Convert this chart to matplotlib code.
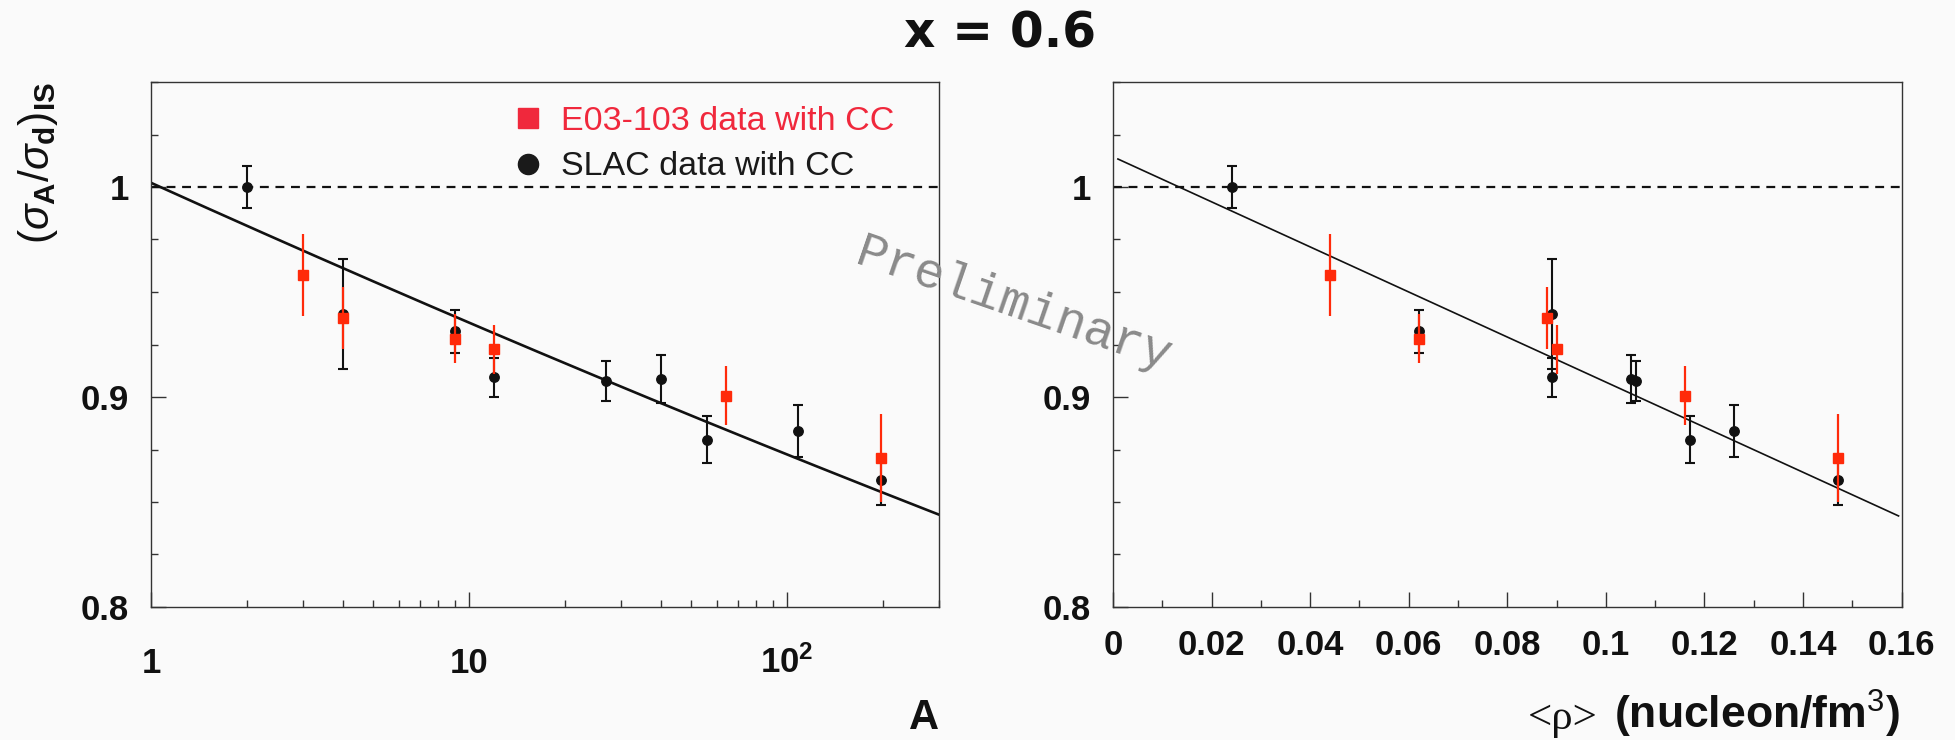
import matplotlib
matplotlib.use("Agg")
import matplotlib.pyplot as plt
import numpy as np
from matplotlib.ticker import LogLocator, MultipleLocator, NullFormatter
from matplotlib.lines import Line2D

# E03-103 data with CC (red squares)
e03_A = [3, 4, 9, 12, 64, 197]
e03_rho = [0.0441, 0.0881, 0.0621, 0.0900, 0.1161, 0.1471]
e03_ratio = [0.9579, 0.9377, 0.9278, 0.9228, 0.9007, 0.8709]
e03_err = [0.0195, 0.0147, 0.0115, 0.0117, 0.0142, 0.0210]

# SLAC data with CC (black circles)
slac_A = [2, 4, 9, 12, 27, 40, 56, 108, 197]
slac_rho = [0.0242, 0.0891, 0.0621, 0.0891, 0.1061, 0.1051, 0.1171, 0.1261, 0.1471]
slac_ratio = [1.0000, 0.9395, 0.9312, 0.9093, 0.9075, 0.9086, 0.8796, 0.8839, 0.8603]
slac_err = [0.0101, 0.0261, 0.0103, 0.0095, 0.0095, 0.0116, 0.0112, 0.0125, 0.0116]

# fits: polynomial in log10(A), and linear in density
fit_A_coef = [1.002, -0.0685, 0.0019]
fit_A_range = [1, 300]
fit_rho_coef = [1.0144, -1.073]
fit_rho_range = [0.001, 0.1594]

y_ticks = [0.8, 0.9, 1.0]
y_ticklabels = ["0.8", "0.9", "1"]
xA_ticks = [1, 10, 100]
xA_ticklabels = ["1", "10", r"10$^{\mathbf{2}}$"]
xrho_ticks = [0, 0.02, 0.04, 0.06, 0.08, 0.1, 0.12, 0.14, 0.16]
xrho_ticklabels = ["0", "0.02", "0.04", "0.06", "0.08", "0.1", "0.12", "0.14", "0.16"]
legend_labels = ["E03-103 data with CC", "SLAC data with CC"]

BG = "#fafafa"
RED = "#ff2a0a"
RED_LEG = "#f0283c"
BLK = "#111111"

plt.rcParams['font.family'] = 'Liberation Sans'
plt.rcParams['mathtext.fontset'] = 'custom'
plt.rcParams['mathtext.rm'] = 'Liberation Sans'
plt.rcParams['mathtext.bf'] = 'Liberation Sans:bold'
plt.rcParams['mathtext.it'] = 'Liberation Sans:italic'

W, H = 1955, 740
fig = plt.figure(figsize=(W / 100, H / 100), dpi=100, facecolor=BG)
ax1 = fig.add_axes([151 / W, 1 - 607 / H, 788 / W, 525 / H])
ax2 = fig.add_axes([1113 / W, 1 - 607 / H, 788.5 / W, 525 / H])


def style_axes(ax):
    ax.set_facecolor(BG)
    for sp in ax.spines.values():
        sp.set_linewidth(1.0)
        sp.set_color("#333333")
    ax.tick_params(which='both', direction='in', top=False, right=False,
                   width=1.0, color="#333333", labelcolor=BLK)
    ax.tick_params(which='major', length=10.5)
    ax.tick_params(which='minor', length=5.3)
    ax.tick_params(axis='y', pad=16)
    ax.set_ylim(0.8, 1.05)
    ax.set_yticks(y_ticks, y_ticklabels, fontsize=25, fontweight='bold')
    ax.yaxis.set_minor_locator(MultipleLocator(0.025))


def draw_points(ax, xs, xe):
    ax.errorbar(xs, slac_ratio, yerr=slac_err, fmt='o', color=BLK, ms=6.8,
                elinewidth=1.5, capsize=3.8, capthick=1.5, zorder=3)
    ax.errorbar(xe, e03_ratio, yerr=e03_err, fmt='s', color=RED, ms=7.5,
                elinewidth=1.6, capsize=0, zorder=4)
    ax.axhline(1.0, color=BLK, lw=1.6, ls=(0, (4, 3)), zorder=2)


# left panel: vs A
style_axes(ax1)
ax1.set_xscale('log')
ax1.set_xlim(1, 300)
ax1.set_xticks(xA_ticks, xA_ticklabels, fontsize=25, fontweight='bold', va='baseline')
ax1.xaxis.set_minor_locator(LogLocator(subs=np.arange(2, 10)))
ax1.xaxis.set_minor_formatter(NullFormatter())
ax1.tick_params(axis='x', pad=47.5)
draw_points(ax1, slac_A, e03_A)
aa = np.logspace(np.log10(fit_A_range[0]), np.log10(fit_A_range[1]), 200)
la = np.log10(aa)
ax1.plot(aa, fit_A_coef[0] + fit_A_coef[1] * la + fit_A_coef[2] * la ** 2,
         color=BLK, lw=1.9, zorder=2)

handles = [Line2D([], [], marker='s', color=RED_LEG, ls='none', markersize=14),
           Line2D([], [], marker='o', color="#1a1a1a", ls='none', markersize=14.5)]
ax1.legend(handles, legend_labels, loc='upper left', bbox_to_anchor=(0.458, 0.954),
           frameon=False, fontsize=24.5, handlelength=0.95, handletextpad=0.5,
           labelspacing=0.42, borderpad=0, borderaxespad=0,
           labelcolor=[RED_LEG, "#1a1a1a"])

# right panel: vs density
style_axes(ax2)
ax2.set_xlim(0, 0.16)
ax2.set_xticks(xrho_ticks, xrho_ticklabels, fontsize=25, fontweight='bold', va='baseline')
ax2.xaxis.set_minor_locator(MultipleLocator(0.01))
ax2.tick_params(axis='x', pad=34.5)
draw_points(ax2, slac_rho, e03_rho)
rr = np.array(fit_rho_range)
ax2.plot(rr, fit_rho_coef[0] + fit_rho_coef[1] * rr, color=BLK, lw=1.2, zorder=2)

# titles and labels
fig.text(1000 / W, 1 - 33 / H, "x = 0.6", ha='center', va='center', fontsize=35,
         fontweight='bold', family='DejaVu Sans', color=BLK)
fig.text(37.5 / W, 1 - 82 / H, r'$(\sigma_{\mathbf{A}}/\sigma_{\mathbf{d}})_{\mathbf{IS}}$',
         rotation=90, ha='center', va='top', fontsize=30.5, color=BLK)
fig.text(939 / W, 1 - 729 / H, "A", ha='right', va='baseline', fontsize=30,
         fontweight='bold', color=BLK)
unit = fig.text(1900 / W, 1 - 729 / H, "(nucleon/fm$^{3}$)", ha='right', va='baseline',
                fontsize=32, fontweight='bold', color=BLK)
renderer = fig.canvas.get_renderer()
x0 = unit.get_window_extent(renderer).x0
fig.text((x0 - 17) / W, 1 - 729 / H, "<\u03c1>", ha='right', va='baseline', fontsize=31,
         family='Liberation Serif', color=BLK)

fig.text(1013 / W, 1 - 305 / H, "Preliminary", rotation=-19, ha='center', va='center',
         fontsize=36, family='Liberation Mono', color="#8a8a8a")

fig.savefig("out.png", dpi=100, facecolor=BG)
